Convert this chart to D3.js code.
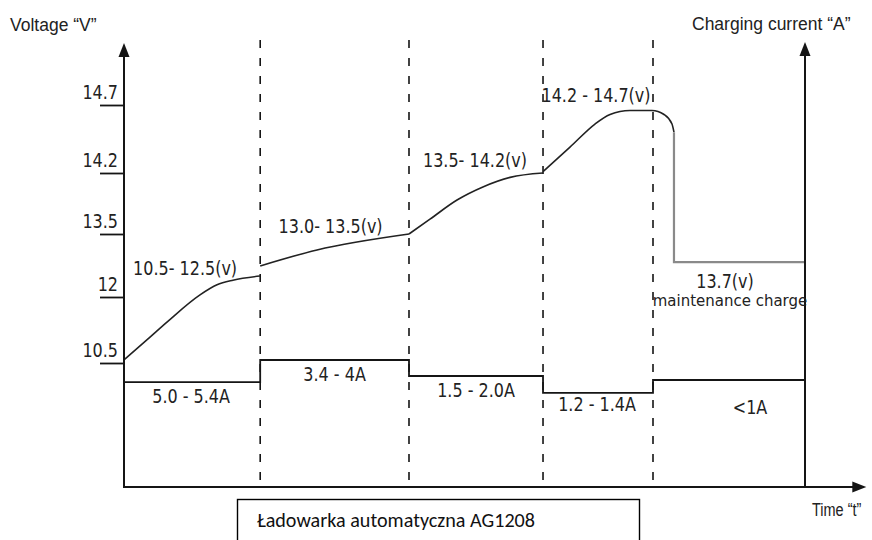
<!DOCTYPE html>
<html><head><meta charset="utf-8">
<script src="https://cdn.jsdelivr.net/npm/d3@7"></script>
<style>body{margin:0;background:#fff}</style>
</head><body>
<svg id="c" width="872" height="540"></svg>
<script>
// ---------- data ----------
const stageBounds = [0, 20, 41.85, 61.53, 77.68, 100];          // time (arbitrary units)
const voltageTicks = [10.5, 12, 13.5, 14.2, 14.7];
const voltageStage1 = [[0,10.57],[3.82,11.09],[6.31,11.43],[11.16,12.05],[13.66,12.29],[16.0,12.40],[19.97,12.5]];
const voltageStage2 = [[20,12.74],[28.34,13.12],[41.85,13.5]];
const voltageStage3 = [[41.85,13.5],[44.93,13.67],[48.9,13.89],[52.7,14.04],[56.7,14.15],[61.53,14.2]];
const voltageStage4 = [[61.53,14.21],[65.49,14.39],[69.16,14.56],[71.37,14.63],[74.3,14.66],[77.53,14.66],[79.3,14.63],[80.47,14.56],[80.76,14.5]];
const voltageFloat  = [[80.76,14.5],[80.76,12.83],[100,12.83]];
const currentLevels = [2.36, 2.86, 2.5, 2.12, 2.41];             // relative step heights
const voltageLabels = ["10.5- 12.5(v)", "13.0- 13.5(v)", "13.5- 14.2(v)", "14.2 - 14.7(v)", "13.7(v)"];
const currentLabels = ["5.0 - 5.4A", "3.4 - 4A", "1.5 - 2.0A", "1.2 - 1.4A", "<1A"];
const axisTitles = ["Voltage \u201cV\u201d", "Charging current \u201cA\u201d", "Time \u201ct\u201d"];
const boxTitle = "Ładowarka automatyczna AG1208";

(function () {
// ---------- scales ----------
const x = d3.scaleLinear().domain([0, 100]).range([124, 805]);
const yV = d3.scaleLinear().domain(voltageTicks).range([363, 297, 234, 173, 105]);
const yI = d3.scaleLinear().domain([0, 10]).range([487, 43]);
const y0 = yI(0);

const svg = d3.select("#c");
svg.append("rect").attr("width", 872).attr("height", 540).attr("fill", "#fff");
const ink = "#151515";
const glyphFont = "'DejaVu Sans', sans-serif";

// stage separators
svg.selectAll("line.stage").data(stageBounds.slice(1, -1)).join("line")
  .attr("class", "stage")
  .attr("x1", d => x(d)).attr("x2", d => x(d))
  .attr("y1", 40).attr("y2", y0)
  .attr("stroke", ink).attr("stroke-width", 1.6).attr("stroke-dasharray", "8,10");

// voltage curve
const vLine = d3.line().x(d => x(d[0])).y(d => yV(d[1])).curve(d3.curveMonotoneX);
[voltageStage1, voltageStage2, voltageStage3, voltageStage4].forEach(seg => {
  svg.append("path").attr("d", vLine(seg)).attr("fill", "none")
    .attr("stroke", "#222").attr("stroke-width", 1.6);
});
svg.append("path")
  .attr("d", d3.line().x(d => x(d[0])).y(d => yV(d[1]))(voltageFloat))
  .attr("fill", "none").attr("stroke", "#8a8a8a").attr("stroke-width", 2.2);

// current steps
const stepPts = currentLevels.map((v, i) => [stageBounds[i], v])
  .concat([[stageBounds[stageBounds.length - 1], currentLevels[currentLevels.length - 1]]]);
svg.append("path")
  .attr("d", d3.line().x(d => x(d[0])).y(d => yI(d[1])).curve(d3.curveStepAfter)(stepPts))
  .attr("fill", "none").attr("stroke", ink).attr("stroke-width", 1.8);

// left voltage axis with ticks
const gL = svg.append("g").attr("transform", `translate(${x(0)},0)`)
  .call(d3.axisLeft(yV).tickValues(voltageTicks).tickSize(24).tickFormat(d => String(d)));
gL.select(".domain").remove();
gL.attr("font-family", glyphFont).attr("font-size", 16);
gL.selectAll(".tick line").attr("stroke", ink).attr("stroke-width", 1.8);
gL.selectAll(".tick text").attr("x", 0).attr("y", 0).attr("dy", null)
  .attr("fill", "#222").attr("text-anchor", "end")
  .attr("transform", "translate(-6,-7) scale(1,1.2)");

// axis lines
const axisTop = yI(10);
function arrowUp(cx, tip) {
  svg.append("line").attr("x1", cx).attr("x2", cx).attr("y1", y0).attr("y2", tip + 12)
    .attr("stroke", ink).attr("stroke-width", 2);
  svg.append("path").attr("d", `M${cx},${tip} L${cx - 5.5},${tip + 14} L${cx + 5.5},${tip + 14} Z`).attr("fill", ink);
}
arrowUp(x(0), axisTop);
arrowUp(x(100), axisTop - 1);
const xTip = x(109);
svg.append("line").attr("x1", x(0) - 1).attr("x2", xTip - 12).attr("y1", y0).attr("y2", y0)
  .attr("stroke", ink).attr("stroke-width", 2);
svg.append("path").attr("d", `M${xTip},${y0} L${xTip - 14},${y0 - 5.5} L${xTip - 14},${y0 + 5.5} Z`).attr("fill", ink);

// stage labels
const mid = i => x((stageBounds[i] + stageBounds[i + 1]) / 2);
const vAnchor = [12.5, 13.5, 14.2, 14.66, 12.83];
const vDx = [-7, -4, -1, -2, -4];
const vDy = [-1, -1, -6, -8, 26];
function stretched(text, px, py, size, anchor, sy) {
  svg.append("text").text(text)
    .attr("transform", `translate(${px},${py}) scale(1,${sy})`)
    .attr("font-family", glyphFont).attr("font-size", size)
    .attr("text-anchor", anchor).attr("fill", "#222");
}
voltageLabels.forEach((t, i) => stretched(t, mid(i) + vDx[i], yV(vAnchor[i]) + vDy[i], 16, "middle", 1.2));
stretched("maintenance charge", mid(4) + 1, yV(12.83) + 44, 15, "middle", 1.1);
const cDx = [-1, 0, 0, -1, 21];
const cDy = [21, 21, 21, 18, 34];
currentLabels.forEach((t, i) => stretched(t, mid(i) + cDx[i], yI(currentLevels[i]) + cDy[i], 16, "middle", 1.2));

// axis titles
svg.append("text").text(axisTitles[0]).attr("x", 10).attr("y", 31)
  .attr("font-family", "'Liberation Sans', Arial, sans-serif").attr("font-size", 17.5).attr("fill", "#222");
svg.append("text").text(axisTitles[1]).attr("x", 692).attr("y", 30)
  .attr("font-family", "'Liberation Sans', Arial, sans-serif").attr("font-size", 17.5).attr("fill", "#222");
svg.append("text").text(axisTitles[2])
  .attr("transform", "translate(812,516) scale(1,1.25)")
  .attr("font-family", "'Liberation Sans', Arial, sans-serif").attr("font-size", 14.5).attr("fill", "#222");

// overlay box
svg.append("rect").attr("x", 237.5).attr("y", 499.5).attr("width", 402).attr("height", 60)
  .attr("fill", "#fff").attr("stroke", "#000").attr("stroke-width", 1.4);
svg.append("text").text(boxTitle).attr("x", 257).attr("y", 527)
  .attr("font-family", "Carlito, Calibri, 'Open Sans', sans-serif").attr("font-size", 19.5)
  .attr("textLength", 278).attr("lengthAdjust", "spacingAndGlyphs").attr("fill", "#111");
})();
</script>
</body></html>
